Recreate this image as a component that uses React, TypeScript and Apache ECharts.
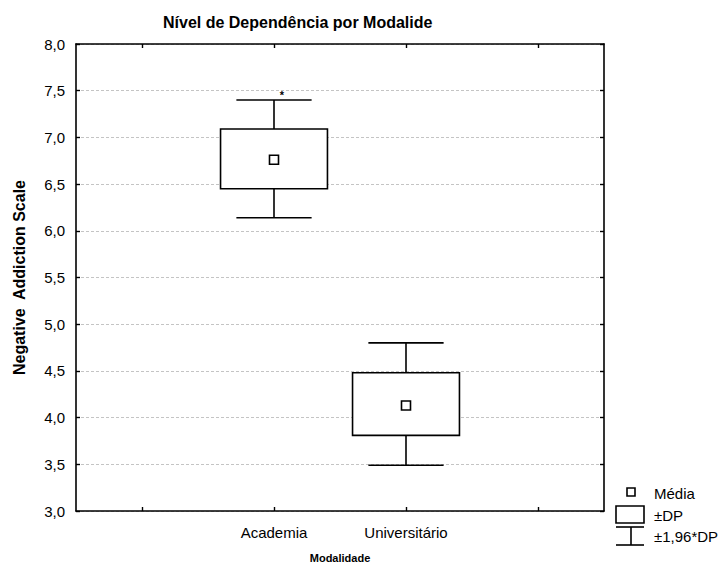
import React, { useEffect, useRef } from "react";
import * as echarts from "echarts";

const chartTitle = "Nível de Dependência por Modalide";
const yAxisName = "Negative  Addiction Scale";
const xAxisName = "Modalidade";
const categories = ["Academia", "Universitário"];
const categoryPositions = [2, 3];
const axisTickPositions = [1, 2, 3, 4];
const means = [6.76, 4.13];
const sdLow = [6.45, 3.81];
const sdHigh = [7.09, 4.48];
const ciLow = [6.14, 3.49];
const ciHigh = [7.40, 4.80];
const extremeX = [2.06];
const extremeY = [7.48];
const legendLabels = ["Média", "±DP", "±1,96*DP"];

const FONT = "Arial, 'Liberation Sans', sans-serif";

export default function App() {
  const ref = useRef<HTMLDivElement>(null);

  useEffect(() => {
    document.body.style.margin = "0";
    if (!ref.current) return;
    const chart = echarts.init(ref.current, null, { renderer: "svg" });

    const boxData = categories.map((_, i) => [
      categoryPositions[i],
      ciLow[i],
      sdLow[i],
      means[i],
      sdHigh[i],
      ciHigh[i],
    ]);
    const extremeData = extremeX.map((x, i) => [x, extremeY[i]]);

    const lineStyle = { stroke: "#000", lineWidth: 1.6 };

    const option: any = {
      animation: false,
      backgroundColor: "#fff",
      textStyle: { fontFamily: FONT },
      title: {
        text: chartTitle,
        left: 163,
        top: 14,
        padding: 0,
        textStyle: { fontFamily: FONT, fontSize: 16, fontWeight: "bold", color: "#000" },
      },
      grid: { left: 76, right: 118, top: 44, bottom: 51, containLabel: false, outerBoundsMode: "none" },
      xAxis: [
        {
          type: "value",
          min: 0.5,
          max: 4.5,
          position: "bottom",
          name: xAxisName,
          nameLocation: "middle",
          nameGap: 41,
          nameTextStyle: { fontFamily: FONT, fontSize: 11, fontWeight: "bold", color: "#000" },
          axisLine: { show: true, onZero: false, lineStyle: { color: "#000", width: 1.6 } },
          axisTick: { show: true, inside: true, length: 4, customValues: axisTickPositions, lineStyle: { color: "#000", width: 1.4 } },
          axisLabel: {
            show: true,
            customValues: categoryPositions,
            margin: 14,
            fontFamily: FONT,
            fontSize: 15,
            color: "#000",
            formatter: (v: number) => {
              const idx = categoryPositions.indexOf(Math.round(v));
              return idx >= 0 ? categories[idx] : "";
            },
          },
          splitLine: { show: false },
        },
        {
          type: "value",
          min: 0.5,
          max: 4.5,
          position: "top",
          axisLine: { show: true, onZero: false, lineStyle: { color: "#000", width: 1.6 } },
          axisTick: { show: true, inside: true, length: 4, customValues: axisTickPositions, lineStyle: { color: "#000", width: 1.4 } },
          axisLabel: { show: false },
          splitLine: { show: false },
        },
      ],
      yAxis: [
        {
          type: "value",
          min: 3,
          max: 8,
          interval: 0.5,
          position: "left",
          name: yAxisName,
          nameLocation: "middle",
          nameGap: 49,
          nameTextStyle: { fontFamily: FONT, fontSize: 16, fontWeight: "bold", color: "#000" },
          axisLine: { show: true, onZero: false, lineStyle: { color: "#000", width: 1.6 } },
          axisTick: { show: true, inside: true, length: 4, lineStyle: { color: "#000", width: 1.4 } },
          axisLabel: {
            margin: 11,
            fontFamily: FONT,
            fontSize: 15,
            color: "#000",
            formatter: (v: number) => v.toFixed(1).replace(".", ","),
          },
          splitLine: { show: true, lineStyle: { color: "#c4c4c4", type: [3, 2], width: 1 } },
        },
        {
          type: "value",
          min: 3,
          max: 8,
          interval: 0.5,
          position: "right",
          axisLine: { show: true, onZero: false, lineStyle: { color: "#000", width: 1.6 } },
          axisTick: { show: true, inside: true, length: 4, lineStyle: { color: "#000", width: 1.4 } },
          axisLabel: { show: false },
          splitLine: { show: false },
        },
      ],
      series: [
        {
          type: "custom",
          xAxisIndex: 0,
          yAxisIndex: 0,
          data: boxData,
          renderItem: (params: any, api: any) => {
            const x = api.value(0);
            const p = (v: number) => api.coord([x, v]);
            const unit = api.size([1, 0])[0];
            const bw = unit * 0.81;
            const cw = unit * 0.57;
            const wl = p(api.value(1));
            const bl = p(api.value(2));
            const m = p(api.value(3));
            const bh = p(api.value(4));
            const wh = p(api.value(5));
            const cx = m[0];
            const ms = 9;
            return {
              type: "group",
              children: [
                { type: "line", shape: { x1: cx - cw / 2, y1: wh[1], x2: cx + cw / 2, y2: wh[1] }, style: lineStyle },
                { type: "line", shape: { x1: cx, y1: wh[1], x2: cx, y2: bh[1] }, style: lineStyle },
                { type: "line", shape: { x1: cx, y1: bl[1], x2: cx, y2: wl[1] }, style: lineStyle },
                { type: "line", shape: { x1: cx - cw / 2, y1: wl[1], x2: cx + cw / 2, y2: wl[1] }, style: lineStyle },
                {
                  type: "rect",
                  shape: { x: cx - bw / 2, y: bh[1], width: bw, height: bl[1] - bh[1] },
                  style: { fill: "#fff", stroke: "#000", lineWidth: 1.6 },
                },
                {
                  type: "rect",
                  shape: { x: cx - ms / 2, y: m[1] - ms / 2, width: ms, height: ms },
                  style: { fill: "#fff", stroke: "#000", lineWidth: 1.6 },
                },
              ],
            };
          },
          z: 3,
        },
        {
          type: "custom",
          xAxisIndex: 0,
          yAxisIndex: 0,
          data: extremeData,
          renderItem: (params: any, api: any) => {
            const c = api.coord([api.value(0), api.value(1)]);
            return {
              type: "text",
              x: c[0],
              y: c[1] + 2,
              style: { text: "*", fill: "#000", font: `bold 11px ${FONT}`, align: "center", verticalAlign: "middle" },
            };
          },
          z: 4,
        },
      ],
      graphic: [
        { type: "rect", shape: { x: 627, y: 488, width: 8, height: 8 }, style: { fill: "#fff", stroke: "#000", lineWidth: 1.6 } },
        { type: "text", x: 654, y: 493, style: { text: legendLabels[0], fill: "#000", font: `15px ${FONT}`, verticalAlign: "middle" } },
        { type: "rect", shape: { x: 616, y: 506, width: 28, height: 17 }, style: { fill: "#fff", stroke: "#000", lineWidth: 1.6 } },
        { type: "text", x: 654, y: 515, style: { text: legendLabels[1], fill: "#000", font: `15px ${FONT}`, verticalAlign: "middle" } },
        { type: "line", shape: { x1: 616, y1: 527, x2: 644, y2: 527 }, style: lineStyle },
        { type: "line", shape: { x1: 631, y1: 527, x2: 631, y2: 545 }, style: lineStyle },
        { type: "line", shape: { x1: 616, y1: 545, x2: 644, y2: 545 }, style: lineStyle },
        { type: "text", x: 654, y: 536, style: { text: legendLabels[2], fill: "#000", font: `15px ${FONT}`, verticalAlign: "middle" } },
      ],
    };

    chart.setOption(option);
    return () => chart.dispose();
  }, []);

  return <div ref={ref} style={{ width: 722, height: 562 }} />;
}
